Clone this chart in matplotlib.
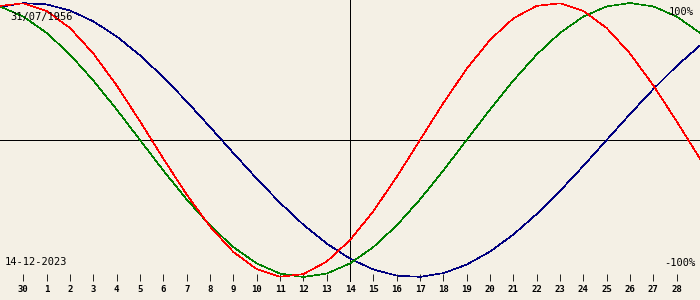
import matplotlib
matplotlib.use("Agg")
import matplotlib.pyplot as plt

# Day positions 0..30 (29 Nov .. 29 Dec 2023); ticks shown at 1..29
tick_labels = ["30"] + [str(d) for d in range(1, 29)]
tick_positions = list(range(1, 30))

physical = [0.9791, 0.9977, 0.9423, 0.8170, 0.6311, 0.3984, 0.1362, -0.1362,
            -0.3984, -0.6311, -0.8170, -0.9423, -0.9977, -0.9791, -0.8879,
            -0.7308, -0.5196, -0.2698, 0.0, 0.2698, 0.5196, 0.7308, 0.8879,
            0.9791, 0.9977, 0.9423, 0.8170, 0.6311, 0.3984, 0.1362, -0.1362]
emotional = [0.9749, 0.9010, 0.7818, 0.6235, 0.4339, 0.2225, 0.0, -0.2225,
             -0.4339, -0.6235, -0.7818, -0.9010, -0.9749, -1.0, -0.9749,
             -0.9010, -0.7818, -0.6235, -0.4339, -0.2225, 0.0, 0.2225, 0.4339,
             0.6235, 0.7818, 0.9010, 0.9749, 1.0, 0.9749, 0.9010, 0.7818]
intellectual = [0.9718, 0.9989, 0.9898, 0.9450, 0.8660, 0.7557, 0.6182, 0.4582,
                0.2817, 0.0951, -0.0951, -0.2817, -0.4582, -0.6182, -0.7557,
                -0.8660, -0.9450, -0.9898, -0.9989, -0.9718, -0.9096, -0.8146,
                -0.6901, -0.5406, -0.3717, -0.1893, 0.0, 0.1893, 0.3717, 0.5406,
                0.6901]
days = list(range(len(physical)))

birth_text = "31/07/1956"
date_text = "14-12-2023"
top_text = "100%"
bottom_text = "-100%"

bg = "#f4f0e5"
fig = plt.figure(figsize=(7, 3), dpi=100, facecolor=bg)
ax = fig.add_axes([0, 0, 1, 1], facecolor=bg)
ax.set_xlim(0, 30)
ax.set_ylim(-160 / 137, 140 / 137)

ax.axhline(0, color="black", lw=0.6, antialiased=False)
ax.axvline(15, ymin=19 / 300, ymax=1, color="black", lw=0.6, antialiased=False)

lw = 0.45
ax.plot(days, intellectual, color="#000080", lw=lw, antialiased=False)
ax.plot(days, emotional, color="#008000", lw=lw, antialiased=False)
ax.plot(days, physical, color="#ff0000", lw=lw, antialiased=False)

for s in ["top", "left", "right"]:
    ax.spines[s].set_visible(False)
ax.spines["bottom"].set_position(("axes", 19 / 300))
ax.spines["bottom"].set_color("none")
ax.set_yticks([])
ax.set_xticks(tick_positions, tick_labels)
ax.tick_params(axis="x", direction="in", length=5.04, width=0.6, color="black",
               pad=3.0, labelsize=6.5)
for lab in ax.get_xticklabels():
    lab.set_fontfamily("DejaVu Sans Mono")
    lab.set_fontweight("bold")

font = dict(family="DejaVu Sans Mono", fontsize=7.5, color="black")
ax.text(10 / 700, 1 - 17 / 300, birth_text, transform=ax.transAxes,
        ha="left", va="center", **font)
ax.text(5 / 700, 1 - 262 / 300, date_text, transform=ax.transAxes,
        ha="left", va="center", **font)
ax.text(694 / 700, 1 - 12 / 300, top_text, transform=ax.transAxes,
        ha="right", va="center", **font)
ax.text(695 / 700, 1 - 262.5 / 300, bottom_text, transform=ax.transAxes,
        ha="right", va="center", **font)

fig.savefig("out.png", dpi=100, facecolor=bg)
